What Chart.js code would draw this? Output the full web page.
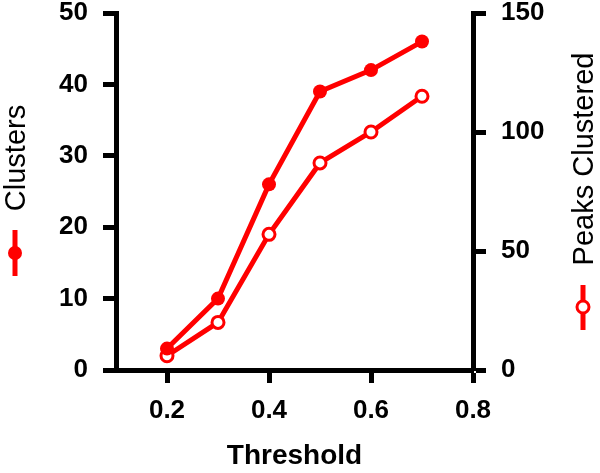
<!DOCTYPE html>
<html>
<head>
<meta charset="utf-8">
<script src="https://cdn.jsdelivr.net/npm/chart.js@4.4.0/dist/chart.umd.min.js"></script>
<style>
  html, body { margin: 0; padding: 0; background: #fff; }
</style>
</head>
<body>
<canvas id="chart" width="600" height="473"></canvas>
<script>
// Data
const thresholds = [0.2, 0.3, 0.4, 0.5, 0.6, 0.7];
const clusters = [3, 10, 26, 39, 42, 46];
const peaksClustered = [6, 20, 57, 87, 100, 115];
const xTicks = [0.2, 0.4, 0.6, 0.8];

const RED = '#ff0000';
const FONT = '"Liberation Sans", Arial, Helvetica, sans-serif';

// build {x, y} points for the linear x scale
function toPoints(xs, ys) {
  return xs.map((x, i) => ({ x: x, y: ys[i] }));
}

// Axis titles with their legend marks, drawn beside the y axes
const sideLegends = {
  id: 'sideLegends',
  afterDraw(chart) {
    const ctx = chart.ctx;
    ctx.save();
    ctx.fillStyle = '#000';
    ctx.font = '29px ' + FONT;
    ctx.textAlign = 'center';
    ctx.textBaseline = 'alphabetic';

    // left: Clusters
    ctx.save();
    ctx.translate(25, 158);
    ctx.rotate(-Math.PI / 2);
    ctx.fillText('Clusters', 0, 0);
    ctx.restore();

    // right: Peaks Clustered
    ctx.save();
    ctx.translate(593, 159);
    ctx.rotate(-Math.PI / 2);
    ctx.fillText('Peaks Clustered', 0, 0);
    ctx.restore();

    ctx.strokeStyle = RED;
    ctx.lineWidth = 5;
    // filled marker
    ctx.beginPath();
    ctx.moveTo(15, 230);
    ctx.lineTo(15, 276);
    ctx.stroke();
    ctx.fillStyle = RED;
    ctx.beginPath();
    ctx.arc(15, 253, 7, 0, Math.PI * 2);
    ctx.fill();

    // open marker
    ctx.beginPath();
    ctx.moveTo(583, 285);
    ctx.lineTo(583, 330);
    ctx.stroke();
    ctx.fillStyle = '#fff';
    ctx.lineWidth = 3;
    ctx.beginPath();
    ctx.arc(583, 307, 6, 0, Math.PI * 2);
    ctx.fill();
    ctx.stroke();
    ctx.restore();
  }
};

const axisGrid = {
  drawOnChartArea: false,
  drawTicks: true,
  tickLength: 13,
  tickWidth: 5,
  tickColor: '#000'
};
const axisBorder = { color: '#000', width: 5 };
const tickFont = { family: FONT, size: 26, weight: 'bold' };

// fixed width for a y axis, without the extra label padding at the ends
function fixWidth(w) {
  return (s) => {
    s.width = w;
    s.paddingTop = 0;
    s.paddingBottom = 0;
  };
}

new Chart(document.getElementById('chart').getContext('2d'), {
  type: 'line',
  data: {
    datasets: [
      {
        label: 'Clusters',
        data: toPoints(thresholds, clusters),
        yAxisID: 'y',
        borderColor: RED,
        borderWidth: 5,
        pointRadius: 7,
        pointBorderWidth: 0,
        pointBackgroundColor: RED,
        pointBorderColor: RED,
        tension: 0
      },
      {
        label: 'Peaks Clustered',
        data: toPoints(thresholds, peaksClustered),
        yAxisID: 'y1',
        borderColor: RED,
        borderWidth: 5,
        pointRadius: 6,
        pointBorderWidth: 3,
        pointBackgroundColor: '#fff',
        pointBorderColor: RED,
        tension: 0
      }
    ]
  },
  options: {
    responsive: false,
    animation: false,
    layout: { padding: { top: 13, left: 0, right: 0, bottom: 0 } },
    plugins: {
      legend: { display: false },
      tooltip: { enabled: false }
    },
    scales: {
      x: {
        type: 'linear',
        position: 'bottom',
        min: 0.1,
        max: 0.8,
        afterBuildTicks: (s) => { s.ticks = xTicks.map((v) => ({ value: v })); },
        afterFit: (s) => {
          s.height = 103;
          s.paddingLeft = 0;
          s.paddingRight = 0;
        },
        grid: axisGrid,
        border: axisBorder,
        ticks: {
          color: '#000',
          font: tickFont,
          padding: 12,
          callback: (v) => v.toFixed(1)
        },
        title: {
          display: true,
          text: 'Threshold',
          color: '#000',
          font: { family: FONT, size: 28, weight: 'bold' },
          padding: { top: 14, bottom: 0 }
        }
      },
      y: {
        position: 'left',
        min: 0,
        max: 50,
        afterFit: fixWidth(116),
        grid: axisGrid,
        border: axisBorder,
        ticks: { stepSize: 10, color: '#000', font: tickFont, padding: 15 }
      },
      y1: {
        position: 'right',
        min: 0,
        max: 150,
        afterFit: fixWidth(127),
        grid: axisGrid,
        border: axisBorder,
        ticks: { stepSize: 50, color: '#000', font: tickFont, padding: 15 }
      }
    }
  },
  plugins: [sideLegends]
});
</script>
</body>
</html>
